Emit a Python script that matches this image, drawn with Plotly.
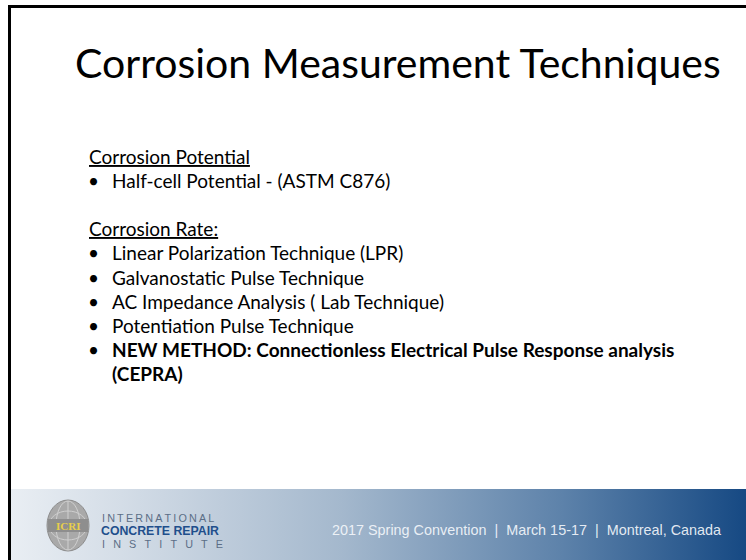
import plotly.graph_objects as go

W, H = 746, 560

title_text = "Corrosion Measurement Techniques"
section_potential = "Corrosion Potential"
potential_items = ["Half-cell Potential - (ASTM C876)"]
section_rate = "Corrosion Rate:"
rate_items = [
    "Linear Polarization Technique (LPR)",
    "Galvanostatic Pulse Technique",
    "AC Impedance Analysis ( Lab Technique)",
    "Potentiation Pulse Technique",
]
new_method = "NEW METHOD: Connectionless Electrical Pulse Response analysis<br>(CEPRA)"
footer_text = "2017 Spring Convention  |  March 15-17  |  Montreal, Canada"
logo_lines = ["INTERNATIONAL", "CONCRETE REPAIR", "INSTITUTE"]

BODY_FONT = "Lato"
BODY_SIZE = 19
fig = go.Figure()

# footer gradient band
fig.add_trace(go.Scatter(
    x=[11, W, W, 11, 11], y=[489, 489, H + 5, H + 5, 489], mode="lines",
    fill="toself", line=dict(width=0),
    fillgradient=dict(type="horizontal",
                      colorscale=[[0, "#e9eef3"], [0.15, "#d4dde7"], [0.45, "#a4b8cd"],
                                  [0.75, "#5d82aa"], [1, "#164983"]]),
    hoverinfo="skip", showlegend=False))

shapes = []
# slide frame lines
shapes.append(dict(type="line", x0=9.5, x1=W + 2, y0=6.5, y1=6.5, line=dict(color="black", width=3)))
shapes.append(dict(type="line", x0=9.5, x1=9.5, y0=5, y1=H + 2, line=dict(color="black", width=3)))

# logo globe
shapes.append(dict(type="circle", x0=47, x1=89, y0=500, y1=551,
                   fillcolor="#a9a9a9", line=dict(color="#8c8c8c", width=1)))
shapes.append(dict(type="circle", x0=56, x1=80, y0=501, y1=550,
                   fillcolor="rgba(0,0,0,0)", line=dict(color="#d0d0d0", width=1)))
shapes.append(dict(type="circle", x0=49, x1=87, y0=511, y1=540,
                   fillcolor="rgba(0,0,0,0)", line=dict(color="#cfcfcf", width=1)))
shapes.append(dict(type="line", x0=68, x1=68, y0=501, y1=550, line=dict(color="#d0d0d0", width=1)))
shapes.append(dict(type="rect", x0=48, x1=88, y0=519, y1=532,
                   fillcolor="#8e8e8e", line=dict(width=0)))

ann = []
ann.append(dict(x=398, y=62, text=title_text, showarrow=False, xanchor="center", yanchor="middle",
                font=dict(family=BODY_FONT, size=41, color="black")))

y0 = 156
step = 24.2
body_font = dict(family=BODY_FONT, size=BODY_SIZE, color="black")
ann.append(dict(x=87, y=y0, text="<u>" + section_potential + "</u>", showarrow=False,
                xanchor="left", yanchor="middle", font=body_font))
rows = [(y0 + step, potential_items[0], False)]
ann.append(dict(x=87, y=y0 + 3 * step, text="<u>" + section_rate + "</u>", showarrow=False,
                xanchor="left", yanchor="middle", font=body_font))
for i, it in enumerate(rate_items):
    rows.append((y0 + (4 + i) * step, it, False))
rows.append((y0 + 8 * step, new_method, True))

for yy, txt, bold in rows:
    ann.append(dict(x=93, y=yy, text="•", showarrow=False, xanchor="center", yanchor="middle",
                    font=body_font))
    if bold:
        parts = txt.split("<br>")
        for j, p in enumerate(parts):
            ann.append(dict(x=110, y=yy + j * step, text="<b>" + p + "</b>", showarrow=False,
                            xanchor="left", yanchor="middle", font=body_font))
    else:
        ann.append(dict(x=110, y=yy, text=txt, showarrow=False, xanchor="left",
                        yanchor="middle", font=body_font))

# logo texts
ann.append(dict(x=68, y=526, text="<b>ICRI</b>", showarrow=False, xanchor="center", yanchor="middle",
                font=dict(family="Liberation Serif", size=11, color="#e8cf4a")))
ann.append(dict(x=100, y=518, text="\u2009".join(logo_lines[0]), showarrow=False, xanchor="left",
                yanchor="middle", font=dict(family="Liberation Sans", size=10.8, color="#5b6e86")))
ann.append(dict(x=99, y=531, text="<b>" + logo_lines[1] + "</b>", showarrow=False, xanchor="left",
                yanchor="middle", font=dict(family="Liberation Sans", size=12.3, color="#1f4f8c")))
ann.append(dict(x=100, y=544, text="\u00a0\u00a0\u2009".join(logo_lines[2]), showarrow=False,
                xanchor="left", yanchor="middle",
                font=dict(family="Liberation Sans", size=10.8, color="#5b6e86")))

ann.append(dict(x=723, y=530, text=footer_text, showarrow=False, xanchor="right", yanchor="middle",
                font=dict(family="Liberation Sans", size=14.4, color="rgba(244,247,251,0.92)")))

fig.update_layout(
    width=W, height=H, margin=dict(l=0, r=0, t=0, b=0),
    paper_bgcolor="white", plot_bgcolor="white",
    xaxis=dict(range=[0, W], visible=False, fixedrange=True),
    yaxis=dict(range=[H, 0], visible=False, fixedrange=True),
    shapes=shapes, annotations=ann, showlegend=False,
)
fig.write_html("out.html", config={"displayModeBar": False},
               post_script="document.body.style.margin='0';document.body.style.overflow='hidden';")
